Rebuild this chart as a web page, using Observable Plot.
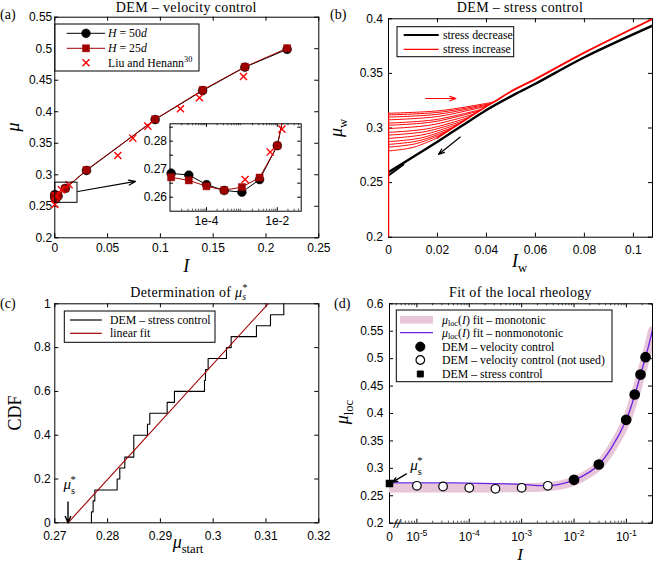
<!DOCTYPE html>
<html><head><meta charset="utf-8">
<script src="https://cdn.jsdelivr.net/npm/d3@7"></script>
<script src="https://cdn.jsdelivr.net/npm/@observablehq/plot@0.6"></script>
<style>
html,body{margin:0;padding:0;background:#fff;}
#fig{position:relative;width:657px;height:564px;overflow:hidden;background:#fff;}
#fig svg{position:absolute;}
</style></head><body><div id="fig"></div>
<script>
// ---------------- data: panel (a) ----------------
const I_vel = [1e-5, 3.16e-5, 1e-4, 3.16e-4, 1e-3, 3.16e-3, 0.01, 0.03, 0.095, 0.14, 0.18, 0.22];
const mu_H50 = [0.2685, 0.2679, 0.2645, 0.2624, 0.2618, 0.2663, 0.2784, 0.3068, 0.3876, 0.4336, 0.4707, 0.4990];
const mu_H25 = [0.2671, 0.2660, 0.2639, 0.2625, 0.2636, 0.2670, 0.2784, 0.3075, 0.3880, 0.4345, 0.4712, 0.5008];
const I_liu = [1e-6, 1.23e-3, 6.3e-3, 0.0135, 0.0597, 0.0739, 0.0881, 0.119, 0.137, 0.1787];
const mu_liu = [0.2529, 0.2663, 0.2761, 0.2843, 0.3306, 0.3581, 0.3772, 0.4047, 0.4222, 0.4560];
const xTicksA = [0, 0.05, 0.1, 0.15, 0.2, 0.25];
const yTicksA = [0.2, 0.25, 0.3, 0.35, 0.4, 0.45, 0.5, 0.55];
const zoomBoxI = [0.0005, 0.0215];
const zoomBoxMu = [0.2555, 0.2875];
const zoomArrowFrom = [0.0218, 0.2735];
const zoomArrowTo = [0.0764, 0.2894];
const insetDomainI = [9.3e-6, 0.0474];
const insetDomainMu = [0.255, 0.2862];
const insetTicksMu = [0.26, 0.265, 0.27, 0.275, 0.28, 0.285];
const insetLabelsMu = [0.26, 0.27, 0.28];
const insetLabelsI = [1e-4, 1e-2];

// ---------------- data: panel (b) ----------------
const Iw_dec = [0, 0.01, 0.02, 0.03, 0.04, 0.05, 0.06, 0.08, 0.108];
const muw_dec = [0.2595, 0.2735, 0.2875, 0.302, 0.3165, 0.329, 0.3405, 0.3648, 0.3939];
const Iw_decStart = [0, 0.006];
const muw_decStart = [0.2565, 0.2665];
const Iw_inc = [0.02, 0.025, 0.03, 0.035, 0.04, 0.043, 0.05, 0.06, 0.08, 0.108];
const muw_inc = [0.291, 0.2983, 0.3055, 0.3128, 0.32, 0.3238, 0.3335, 0.3448, 0.369, 0.4];
const incJumpMu = [0.2, 0.3135];
const branchMu0 = [0.3135, 0.3120, 0.3100, 0.3075, 0.3045, 0.3025, 0.2995, 0.2960, 0.2935, 0.2905, 0.2875, 0.2850, 0.2825, 0.2790];
const branchIMid = [0.0215, 0.021, 0.0205, 0.020, 0.019, 0.0185, 0.0175, 0.0165, 0.0155, 0.0145, 0.0135, 0.0125, 0.0115, 0.010];
const branchMuMid = [0.3160, 0.3145, 0.3127, 0.3105, 0.3076, 0.3057, 0.3028, 0.2995, 0.2969, 0.2940, 0.2910, 0.2884, 0.2858, 0.2822];
const branchIMerge = [0.043, 0.042, 0.041, 0.040, 0.038, 0.037, 0.035, 0.033, 0.031, 0.029, 0.027, 0.025, 0.023, 0.020];
const branchMuMerge = [0.3238, 0.3225, 0.3213, 0.3200, 0.3171, 0.3157, 0.3128, 0.3099, 0.3070, 0.3041, 0.3012, 0.2983, 0.2954, 0.2910];
const xTicksB = [0, 0.02, 0.04, 0.06, 0.08, 0.1];
const yTicksB = [0.2, 0.25, 0.3, 0.35, 0.4];
const domainIwB = [0, 0.1078];
const redArrow = [0.0152, 0.327, 0.0275, 0.327];
const blackArrow = [0.0293, 0.2917, 0.0204, 0.2758];

// ---------------- data: panel (c) ----------------
const stepMu = [0.27694, 0.27694, 0.27726, 0.27758, 0.28181, 0.28231, 0.28326, 0.28496, 0.28755, 0.28799, 0.29128, 0.29266, 0.29835, 0.29854, 0.29904, 0.30251, 0.30340, 0.30819, 0.31085, 0.31337];
const stepCDF = [0, 0.05, 0.1, 0.15, 0.2, 0.25, 0.3, 0.4, 0.45, 0.5, 0.55, 0.6, 0.65, 0.7, 0.75, 0.8, 0.85, 0.9, 0.95, 1.0];
const fitMu = [0.2725, 0.3104];
const fitCDF = [0, 1];
const muStarArrowC = [0.2725, 0.095, 0.2725, 0.0];
const muStarLabelC = [0.2729, 0.15];
const xTicksC = [0.27, 0.28, 0.29, 0.3, 0.31, 0.32];
const yTicksC = [0, 0.2, 0.4, 0.6, 0.8, 1];

// ---------------- data: panel (d) ----------------
const I_notUsed = [1e-5, 3.16e-5, 1e-4, 3.16e-4, 1e-3, 3.16e-3];
const mu_notUsed = [0.2682, 0.2669, 0.2645, 0.2627, 0.2645, 0.2682];
const I_used = [0.01, 0.0297, 0.099, 0.144, 0.186, 0.232];
const mu_used = [0.2791, 0.3070, 0.3885, 0.4346, 0.4710, 0.5027];
const I_stress = [0];
const mu_stress = [0.2724];
const I_fit = [3e-6, 1e-5, 1e-4, 1e-3, 2.5e-3, 5e-3, 1e-2, 2e-2, 3e-2, 5e-2, 0.1, 0.15, 0.2, 0.25, 0.315];
const mu_nonmono = [0.2737, 0.2736, 0.2731, 0.2708, 0.2685, 0.2705, 0.2785, 0.2935, 0.3070, 0.3350, 0.3890, 0.4390, 0.4810, 0.5140, 0.5526];
const mu_mono = [0.2640, 0.2640, 0.2641, 0.2648, 0.2662, 0.2690, 0.2765, 0.2918, 0.3055, 0.3335, 0.3865, 0.4365, 0.4790, 0.5120, 0.5510];
const domainID = [3.0e-6, 0.315];
const xMajorD = [1e-5, 1e-4, 1e-3, 1e-2, 1e-1];
const yTicksD = [0.2, 0.25, 0.3, 0.35, 0.4, 0.45, 0.5, 0.55, 0.6];
const muStarArrowD = [6.3e-6, 0.29, 3.43e-6, 0.2748];
const muStarLabelD = [7.6e-6, 0.2955];

// ---------------- helpers ----------------
const SERIF = "'Liberation Serif','Times New Roman',serif";
const SANS = "'Liberation Sans',Arial,Helvetica,sans-serif";
const RED = "#ff0000", DARKRED = "#a00000", PINK = "#e8c6d9", PURPLE = "#6b22e6";
const TICKFS = 12;
const STYLE = {fontFamily: SANS, fontSize: "12px", background: "none", overflow: "visible", color: "black"};
const fig = document.getElementById("fig");
const fmtNum = d => String(+(+d).toFixed(4));

function place(svg, left, top) { svg.style.left = left + "px"; svg.style.top = top + "px"; fig.appendChild(svg); return svg; }

function boxTicks(xT, yT, fw, fh, len = 4, opt = {}) {
  const o = {stroke: "black", strokeWidth: 1, ...opt};
  const m = [];
  if (xT) m.push(Plot.tickX(xT, {x: d => d, insetTop: fh - len, ...o}), Plot.tickX(xT, {x: d => d, insetBottom: fh - len, ...o}));
  if (yT) m.push(Plot.tickY(yT, {y: d => d, insetRight: fw - len, ...o}), Plot.tickY(yT, {y: d => d, insetLeft: fw - len, ...o}));
  return m;
}

function rich(svg, x, y, parts, o = {}) {
  const size = o.size || 12;
  const t = d3.select(svg).append("text")
    .attr("x", x).attr("y", y)
    .attr("font-family", o.family || SERIF).attr("font-size", size)
    .attr("text-anchor", o.anchor || "start").attr("fill", "black");
  if (o.spacing) t.attr("letter-spacing", o.spacing);
  if (o.rotate) t.attr("transform", `rotate(${o.rotate} ${x} ${y})`);
  let shift = 0;
  for (const p of parts) {
    const s = t.append("tspan").text(p.t);
    if (p.i) s.attr("font-style", "italic");
    let target = 0;
    if (p.sub) target = size * (o.subShift || 0.28);
    if (p.sup) target = -size * 0.42;
    if (p.sub || p.sup) s.attr("font-size", size * (p.scale || 0.7));
    if (target !== shift) s.attr("dy", target - shift);
    if (p.dx) s.attr("dx", p.dx);
    shift = target;
  }
  return t;
}
function legendRect(svg, x, y, w, h) {
  d3.select(svg).append("rect").attr("x", x).attr("y", y).attr("width", w).attr("height", h)
    .attr("fill", "white").attr("stroke", "black").attr("stroke-width", 1);
}
function legendLine(svg, x1, x2, y, color, width) {
  d3.select(svg).append("line").attr("x1", x1).attr("x2", x2).attr("y1", y).attr("y2", y)
    .attr("stroke", color).attr("stroke-width", width);
}
function legendSymbol(svg, type, x, y, size, fill, stroke, sw) {
  d3.select(svg).append("path").attr("transform", `translate(${x},${y})`)
    .attr("d", d3.symbol(type, size)()).attr("fill", fill).attr("stroke", stroke).attr("stroke-width", sw || 1);
}
function minorLog(lo, hi) {
  const out = [];
  for (let e = -7; e <= 0; e++) for (let k = 2; k <= 9; k++) { const v = k * Math.pow(10, e); if (v > lo && v < hi) out.push(v); }
  return out;
}
const ax = (o) => Plot.axisX({tickSize: 0, label: null, fontSize: TICKFS, fontFamily: SANS, ...o});
const ay = (o) => Plot.axisY({tickSize: 0, label: null, fontSize: TICKFS, fontFamily: SANS, ...o});

// ---------------- panel (a) ----------------
const velA = I_vel.map((I, i) => ({I, H50: mu_H50[i], H25: mu_H25[i]}));
const liuA = I_liu.map((I, i) => ({I, mu: mu_liu[i]}));
const fwA = 264, fhA = 220.6;
const svgA = Plot.plot({
  width: 328, height: 280, marginLeft: 54.3, marginRight: 9.7, marginTop: 16.7, marginBottom: 42.7,
  x: {domain: [0, 0.25]}, y: {domain: [0.2, 0.55]}, style: STYLE,
  marks: [
    Plot.frame({stroke: "black", strokeWidth: 1}),
    ...boxTicks(xTicksA, yTicksA, fwA, fhA, 4),
    ax({ticks: xTicksA, tickPadding: 6, tickFormat: fmtNum}),
    ay({ticks: yTicksA, tickPadding: 2.5, tickFormat: fmtNum}),
    Plot.line(velA, {x: "I", y: "H50", stroke: "black", strokeWidth: 1}),
    Plot.dot(velA, {x: "I", y: "H50", r: 4.4, fill: "black", stroke: "black", strokeWidth: 0.5}),
    Plot.line(velA, {x: "I", y: "H25", stroke: DARKRED, strokeWidth: 1}),
    Plot.dot(velA, {x: "I", y: "H25", symbol: "square", r: 4.0, fill: DARKRED, stroke: DARKRED, strokeWidth: 0.5}),
    Plot.dot(liuA, {x: "I", y: "mu", symbol: "times", r: 3.3, stroke: RED, strokeWidth: 1.4}),
    Plot.rect([0], {x1: () => zoomBoxI[0], x2: () => zoomBoxI[1], y1: () => zoomBoxMu[0], y2: () => zoomBoxMu[1], fill: "none", stroke: "black", strokeWidth: 1}),
    Plot.arrow([0], {x1: () => zoomArrowFrom[0], y1: () => zoomArrowFrom[1], x2: () => zoomArrowTo[0], y2: () => zoomArrowTo[1], stroke: "black", strokeWidth: 1.2, headLength: 9, headAngle: 40})
  ]
});
place(svgA, 0, 0);
rich(svgA, 186.3, 12.3, [{t: "DEM – velocity control"}], {size: 14, anchor: "middle", spacing: 0.35});
rich(svgA, 0, 19, [{t: "(a)"}], {size: 14});
rich(svgA, 19, 127, [{t: "μ", i: true}], {size: 18, anchor: "middle", rotate: -90});
rich(svgA, 186.3, 271.5, [{t: "I", i: true}], {size: 18, anchor: "middle"});
// legend (a)
legendRect(svgA, 55, 24, 144, 47);
legendLine(svgA, 66.7, 105, 33.3, "black", 1);
legendSymbol(svgA, d3.symbolCircle, 86, 33.3, 60, "black", "black", 0.5);
rich(svgA, 108, 37.3, [{t: "H", i: true}, {t: " = 50"}, {t: "d", i: true}], {size: 11.8});
legendLine(svgA, 66.7, 105, 48.3, DARKRED, 1);
legendSymbol(svgA, d3.symbolSquare, 86, 48.3, 50, DARKRED, DARKRED, 0.5);
rich(svgA, 108, 52.3, [{t: "H", i: true}, {t: " = 25"}, {t: "d", i: true}], {size: 11.8});
legendSymbol(svgA, d3.symbolTimes, 86, 62.7, 34, "none", RED, 1.4);
rich(svgA, 108, 66.7, [{t: "Liu and Henann"}, {t: "30", sup: true}], {size: 11.8});

// inset (a)
const fwI = 131.2, fhI = 87.4;
const svgInset = Plot.plot({
  width: 166, height: 113, marginLeft: 29.5, marginRight: 5.3, marginTop: 5.3, marginBottom: 20.3,
  x: {type: "log", domain: insetDomainI}, y: {domain: insetDomainMu}, style: STYLE,
  marks: [
    Plot.frame({fill: "white", stroke: "black", strokeWidth: 1}),
    ...boxTicks(insetLabelsI, insetTicksMu, fwI, fhI, 3.5),
    ...boxTicks(minorLog(insetDomainI[0], insetDomainI[1]), null, fwI, fhI, 2, {strokeWidth: 0.7}),
    ax({ticks: insetLabelsI, tickPadding: 5, tickFormat: d => "1e" + Math.round(Math.log10(d))}),
    ay({ticks: insetLabelsMu, tickPadding: 3, tickFormat: fmtNum}),
    Plot.line(velA, {x: "I", y: "H50", stroke: "black", strokeWidth: 1, clip: true}),
    Plot.dot(velA.filter(d => d.H50 < insetDomainMu[1]), {x: "I", y: "H50", r: 4.4, fill: "black", stroke: "black", strokeWidth: 0.5}),
    Plot.line(velA, {x: "I", y: "H25", stroke: DARKRED, strokeWidth: 1, clip: true}),
    Plot.dot(velA.filter(d => d.H25 < insetDomainMu[1]), {x: "I", y: "H25", symbol: "square", r: 4.0, fill: DARKRED, stroke: DARKRED, strokeWidth: 0.5}),
    Plot.dot(liuA.filter(d => d.I > insetDomainI[0] && d.mu < insetDomainMu[1]), {x: "I", y: "mu", symbol: "times", r: 3.3, stroke: RED, strokeWidth: 1.4})
  ]
});
place(svgInset, 140, 118);

// ---------------- panel (b) ----------------
const decMain = Iw_dec.map((x, i) => ({x, y: muw_dec[i]}));
const decStart = Iw_decStart.map((x, i) => ({x, y: muw_decStart[i]}));
const incMain = Iw_inc.map((x, i) => ({x, y: muw_inc[i]}));
const incJump = incJumpMu.map(y => ({x: 0, y}));
const branches = [];
branchMu0.forEach((m0, k) => {
  branches.push({k, x: 0, y: m0});
  branches.push({k, x: branchIMid[k], y: branchMuMid[k]});
  branches.push({k, x: branchIMerge[k], y: branchMuMerge[k]});
});
const fwB = 264, fhB = 218.4;
const svgB = Plot.plot({
  width: 330, height: 280, marginLeft: 61, marginRight: 5, marginTop: 18.3, marginBottom: 43.3,
  x: {domain: domainIwB}, y: {domain: [0.2, 0.4]}, style: STYLE,
  marks: [
    Plot.frame({stroke: "black", strokeWidth: 1}),
    ...boxTicks(xTicksB, yTicksB, fwB, fhB, 4),
    ax({ticks: xTicksB, tickPadding: 8, tickFormat: fmtNum}),
    ay({ticks: yTicksB, tickPadding: 5.5, tickFormat: fmtNum}),
    Plot.line(decMain, {x: "x", y: "y", stroke: "black", strokeWidth: 2.4, curve: "catmull-rom", clip: true}),
    Plot.line(decStart, {x: "x", y: "y", stroke: "black", strokeWidth: 2, clip: true}),
    Plot.line(incJump, {x: "x", y: "y", stroke: RED, strokeWidth: 1.5, clip: true}),
    Plot.line(branches, {x: "x", y: "y", z: "k", stroke: RED, strokeWidth: 1, curve: "catmull-rom", clip: true}),
    Plot.line(incMain, {x: "x", y: "y", stroke: RED, strokeWidth: 1.8, curve: "catmull-rom", clip: true}),
    Plot.arrow([0], {x1: () => redArrow[0], y1: () => redArrow[1], x2: () => redArrow[2], y2: () => redArrow[3], stroke: RED, strokeWidth: 1.2, headLength: 8, headAngle: 40}),
    Plot.arrow([0], {x1: () => blackArrow[0], y1: () => blackArrow[1], x2: () => blackArrow[2], y2: () => blackArrow[3], stroke: "black", strokeWidth: 1.2, headLength: 8, headAngle: 40})
  ]
});
place(svgB, 327, 0);
rich(svgB, 193, 12.3, [{t: "DEM – stress control"}], {size: 14, anchor: "middle", spacing: 0.35});
rich(svgB, 3, 19, [{t: "(b)"}], {size: 14});
rich(svgB, 15, 128, [{t: "μ", i: true}, {t: "w", sub: true}], {size: 18, anchor: "middle", rotate: -90});
rich(svgB, 192.5, 267, [{t: "I", i: true}, {t: "w", sub: true}], {size: 18, anchor: "middle"});
legendRect(svgB, 70, 26.7, 116.7, 30);
legendLine(svgB, 76.7, 111.7, 35, "black", 2);
rich(svgB, 116, 39, [{t: "stress decrease"}], {size: 11.8});
legendLine(svgB, 76.7, 111.7, 49.3, RED, 1.2);
rich(svgB, 116, 53.3, [{t: "stress increase"}], {size: 11.8});

// ---------------- panel (c) ----------------
const steps = stepMu.map((x, i) => ({x, y: stepCDF[i]}));
const fitLine = fitMu.map((x, i) => ({x, y: fitCDF[i]}));
const fwC = 264, fhC = 219;
const svgC = Plot.plot({
  width: 328, height: 284, marginLeft: 54.3, marginRight: 9.7, marginTop: 23.3, marginBottom: 41.7,
  x: {domain: [0.27, 0.32]}, y: {domain: [0, 1]}, style: STYLE,
  marks: [
    Plot.frame({stroke: "black", strokeWidth: 1}),
    ...boxTicks(xTicksC, yTicksC, fwC, fhC, 4),
    ax({ticks: xTicksC, tickPadding: 9, tickFormat: fmtNum}),
    ay({ticks: yTicksC, tickPadding: 4, tickFormat: fmtNum}),
    Plot.line(steps, {x: "x", y: "y", curve: "step-after", stroke: "black", strokeWidth: 1.1}),
    Plot.line(fitLine, {x: "x", y: "y", stroke: DARKRED, strokeWidth: 1.1}),
    Plot.arrow([0], {x1: () => muStarArrowC[0], y1: () => muStarArrowC[1], x2: () => muStarArrowC[2], y2: () => muStarArrowC[3], stroke: "black", strokeWidth: 1.4, headLength: 8, headAngle: 45})
  ]
});
place(svgC, 0, 280);
{
  const sx = svgC.scale("x"), sy = svgC.scale("y");
  rich(svgC, sx.apply(muStarLabelC[0]), sy.apply(muStarLabelC[1]), [{t: "μ", i: true}, {t: "s", sub: true}, {t: "*", sup: true, dx: -4.5}], {size: 15, anchor: "middle"});
}
rich(svgC, 189, 16.5, [{t: "Determination of "}, {t: "μ", i: true}, {t: "s", sub: true, i: true}, {t: "*", sup: true, dx: -4}], {size: 14, anchor: "middle", spacing: 0.3});
rich(svgC, 0, 28, [{t: "(c)"}], {size: 14});
rich(svgC, 21, 133, [{t: "CDF"}], {size: 18, anchor: "middle", rotate: -90});
rich(svgC, 188, 268, [{t: "μ", i: true}, {t: "start", sub: true}], {size: 18, anchor: "middle"});
legendRect(svgC, 64.3, 31, 150.7, 31.3);
legendLine(svgC, 70, 101.7, 40, "black", 1.2);
rich(svgC, 110, 44, [{t: "DEM – stress control"}], {size: 11.8});
legendLine(svgC, 70, 101.7, 53.3, DARKRED, 1.2);
rich(svgC, 110, 57.3, [{t: "linear fit"}], {size: 11.8});

// ---------------- panel (d) ----------------
const toXD = I => (I === 0 ? domainID[0] : I);
const fitD = I_fit.map((I, i) => ({I, mono: mu_mono[i], non: mu_nonmono[i]}));
const notUsedD = I_notUsed.map((I, i) => ({I, mu: mu_notUsed[i]}));
const usedD = I_used.map((I, i) => ({I, mu: mu_used[i]}));
const stressD = I_stress.map((I, i) => ({I, mu: mu_stress[i]}));
const fwD = 263, fhD = 219.4;
const svgD = Plot.plot({
  width: 330, height: 284, marginLeft: 62, marginRight: 5, marginTop: 23.3, marginBottom: 41.3,
  x: {type: "log", domain: domainID}, y: {domain: [0.2, 0.6]}, style: STYLE,
  marks: [
    Plot.frame({stroke: "black", strokeWidth: 1}),
    ...boxTicks(xMajorD, yTicksD, fwD, fhD, 4),
    ...boxTicks(minorLog(domainID[0], domainID[1]), null, fwD, fhD, 2, {strokeWidth: 0.7}),
    ax({ticks: xMajorD, tickPadding: 9, tickFormat: d => "10^" + Math.round(Math.log10(d))}),
    Plot.text(I_stress, {x: d => toXD(d), frameAnchor: "bottom", lineAnchor: "top", dy: 9, text: d => String(d), fontSize: TICKFS, fontFamily: SANS}),
    ay({ticks: yTicksD, tickPadding: 6, tickFormat: fmtNum}),
    Plot.line(fitD, {x: "I", y: "mono", stroke: PINK, strokeWidth: 9, curve: "catmull-rom", clip: true}),
    Plot.line(fitD, {x: "I", y: "non", stroke: PURPLE, strokeWidth: 1.3, curve: "catmull-rom", clip: true}),
    Plot.dot(notUsedD, {x: "I", y: "mu", r: 4.3, fill: "white", stroke: "black", strokeWidth: 1.2}),
    Plot.dot(usedD, {x: "I", y: "mu", r: 4.6, fill: "black", stroke: "black"}),
    Plot.dot(stressD, {x: d => toXD(d.I), y: "mu", symbol: "square", r: 3.4, fill: "black", stroke: "black"}),
    Plot.arrow([0], {x1: () => muStarArrowD[0], y1: () => muStarArrowD[1], x2: () => muStarArrowD[2], y2: () => muStarArrowD[3], stroke: "black", strokeWidth: 1.3, headLength: 8, headAngle: 45})
  ]
});
place(svgD, 327, 280);
d3.select(svgD).selectAll("text").each(function () {
  const m = /^10\^(-?\d+)$/.exec(this.textContent);
  if (m) {
    this.textContent = "10";
    d3.select(this).append("tspan").attr("dy", "-0.55em").attr("font-size", "0.72em").text(m[1]);
  }
});
{
  const sx = svgD.scale("x"), sy = svgD.scale("y");
  rich(svgD, sx.apply(muStarLabelD[0]), sy.apply(muStarLabelD[1]), [{t: "μ", i: true}, {t: "s", sub: true}, {t: "*", sup: true, dx: -4.5}], {size: 15});
}
d3.select(svgD).append("text").attr("x", 62 + 8).attr("y", 284 - 41.3 + 5).attr("text-anchor", "middle")
  .attr("font-family", SANS).attr("font-size", 12).attr("font-style", "italic").text("//");
rich(svgD, 193.5, 16.5, [{t: "Fit of the local rheology"}], {size: 14, anchor: "middle", spacing: 0.3});
rich(svgD, 7, 28, [{t: "(d)"}], {size: 14});
rich(svgD, 21, 132, [{t: "μ", i: true}, {t: "loc", sub: true}], {size: 18, anchor: "middle", rotate: -90});
rich(svgD, 193, 280, [{t: "I", i: true}], {size: 17, anchor: "middle"});
legendRect(svgD, 69.3, 30, 215.7, 71.7);
legendLine(svgD, 73, 106, 39.7, PINK, 7.5);
rich(svgD, 115, 43.7, [{t: "μ", i: true}, {t: "loc", sub: true}, {t: "("}, {t: "I", i: true}, {t: ") fit – monotonic"}], {size: 11.8, subShift: 0.2});
legendLine(svgD, 73, 106, 52.7, PURPLE, 1.3);
rich(svgD, 115, 56.7, [{t: "μ", i: true}, {t: "loc", sub: true}, {t: "("}, {t: "I", i: true}, {t: ") fit – nonmonotonic"}], {size: 11.8, subShift: 0.2});
legendSymbol(svgD, d3.symbolCircle, 93.3, 66.7, 66, "black", "black", 1);
rich(svgD, 115, 70.7, [{t: "DEM – velocity control"}], {size: 11.8});
legendSymbol(svgD, d3.symbolCircle, 93.3, 80, 58, "white", "black", 1.2);
rich(svgD, 115, 84, [{t: "DEM – velocity control (not used)"}], {size: 11.8});
legendSymbol(svgD, d3.symbolSquare, 93.3, 94, 36, "black", "black", 1);
rich(svgD, 115, 98, [{t: "DEM – stress control"}], {size: 11.8});
</script></body></html>
